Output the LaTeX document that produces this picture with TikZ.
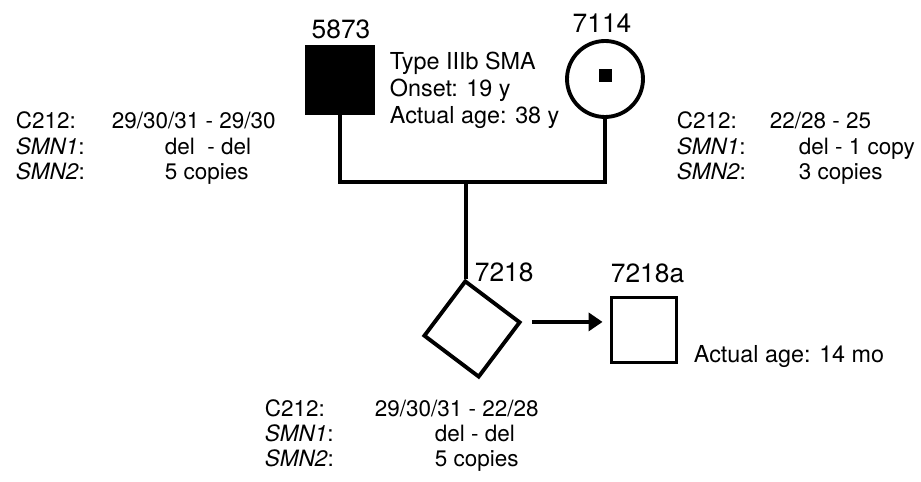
\documentclass[tikz,border=0pt]{standalone}
\usepackage{fontspec}
\setmainfont{TeX Gyre Heros}
\usetikzlibrary{arrows.meta}

\begin{document}
\begin{tikzpicture}[x=0.02cm, y=-0.02cm, line width=2.2pt,
  indiv/.style={draw, minimum size=1.32cm, inner sep=0pt},
  tag/.style={font=\fontsize{15}{18}\selectfont, inner sep=0pt, anchor=base},
  note/.style={font=\fontsize{13.3}{16}\selectfont, inner sep=0pt, anchor=base west},
  geno/.style={font=\fontsize{12.8}{15}\selectfont, inner sep=0pt, anchor=base west}]
\useasboundingbox (0,0) rectangle (921,482);

% parents
\node[indiv, fill=black] (p5873) at (340,80) {};
\node[indiv, circle, minimum size=1.52cm] (m7114) at (605,79) {};
\node[fill=black, inner sep=0pt, minimum size=0.26cm] (c7114) at (605,76) {};
\node[tag] (t5873) at (341,39) {5873};
\node[tag] (t7114) at (602,33) {7114};
\foreach \i/\txt in {0/Type IIIb SMA, 1/Onset: 19 y, 2/Actual age: 38 y}{
  \node[note] (n5873-\i) at (388,70+\i*27) {\txt};
}

% child and fetus
\node[indiv, minimum size=1.36cm, rotate=-37] (p7218) at (472,329) {};
\node[indiv, minimum size=1.3cm] (p7218a) at (644,330) {};
\node[tag, anchor=base west] (t7218) at (473,282) {7218};
\node[tag, anchor=base west] (t7218a) at (609,283) {7218a};
\node[note] (n7218a) at (692,363) {Actual age: 14 mo};

% lines of descent
\coordinate (sib) at (466,182);
\draw (p5873.south) |- (sib) -| (m7114.south);
\draw (sib) -- (sib |- p7218.north west);
\coordinate (a0) at ([xshift=0.2cm]p7218.north east);
\draw[-{Triangle[length=0.28cm,width=0.36cm]}, line width=2.6pt, shorten >=0.14cm] (a0) -- (a0 -| p7218a.west);

% genotypes
\node[geno] (g1a) at (14,129) {C212:};
\node[geno] (g1b) at (14,155) {\textit{SMN1}:};
\node[geno] (g1c) at (14,180) {\textit{SMN2}:};
\node[geno] (v1a) at (110,129) {29/30/31 - 29/30};
\node[geno] (v1b) at (163,155) {del~~- del};
\node[geno] (v1c) at (163,180) {5 copies};

\node[geno] (g2a) at (675,129) {C212:};
\node[geno] (g2b) at (675,155) {\textit{SMN1}:};
\node[geno] (g2c) at (675,180) {\textit{SMN2}:};
\node[geno] (v2a) at (768,129) {22/28 - 25};
\node[geno] (v2b) at (797,155) {del - 1 copy};
\node[geno] (v2c) at (797,180) {3 copies};

\node[geno] (g3a) at (263,417) {C212:};
\node[geno] (g3b) at (263,442) {\textit{SMN1}:};
\node[geno] (g3c) at (263,467) {\textit{SMN2}:};
\node[geno] (v3a) at (373,417) {29/30/31 - 22/28};
\node[geno] (v3b) at (433,442) {del - del};
\node[geno] (v3c) at (433,467) {5 copies};
\end{tikzpicture}
\end{document}
